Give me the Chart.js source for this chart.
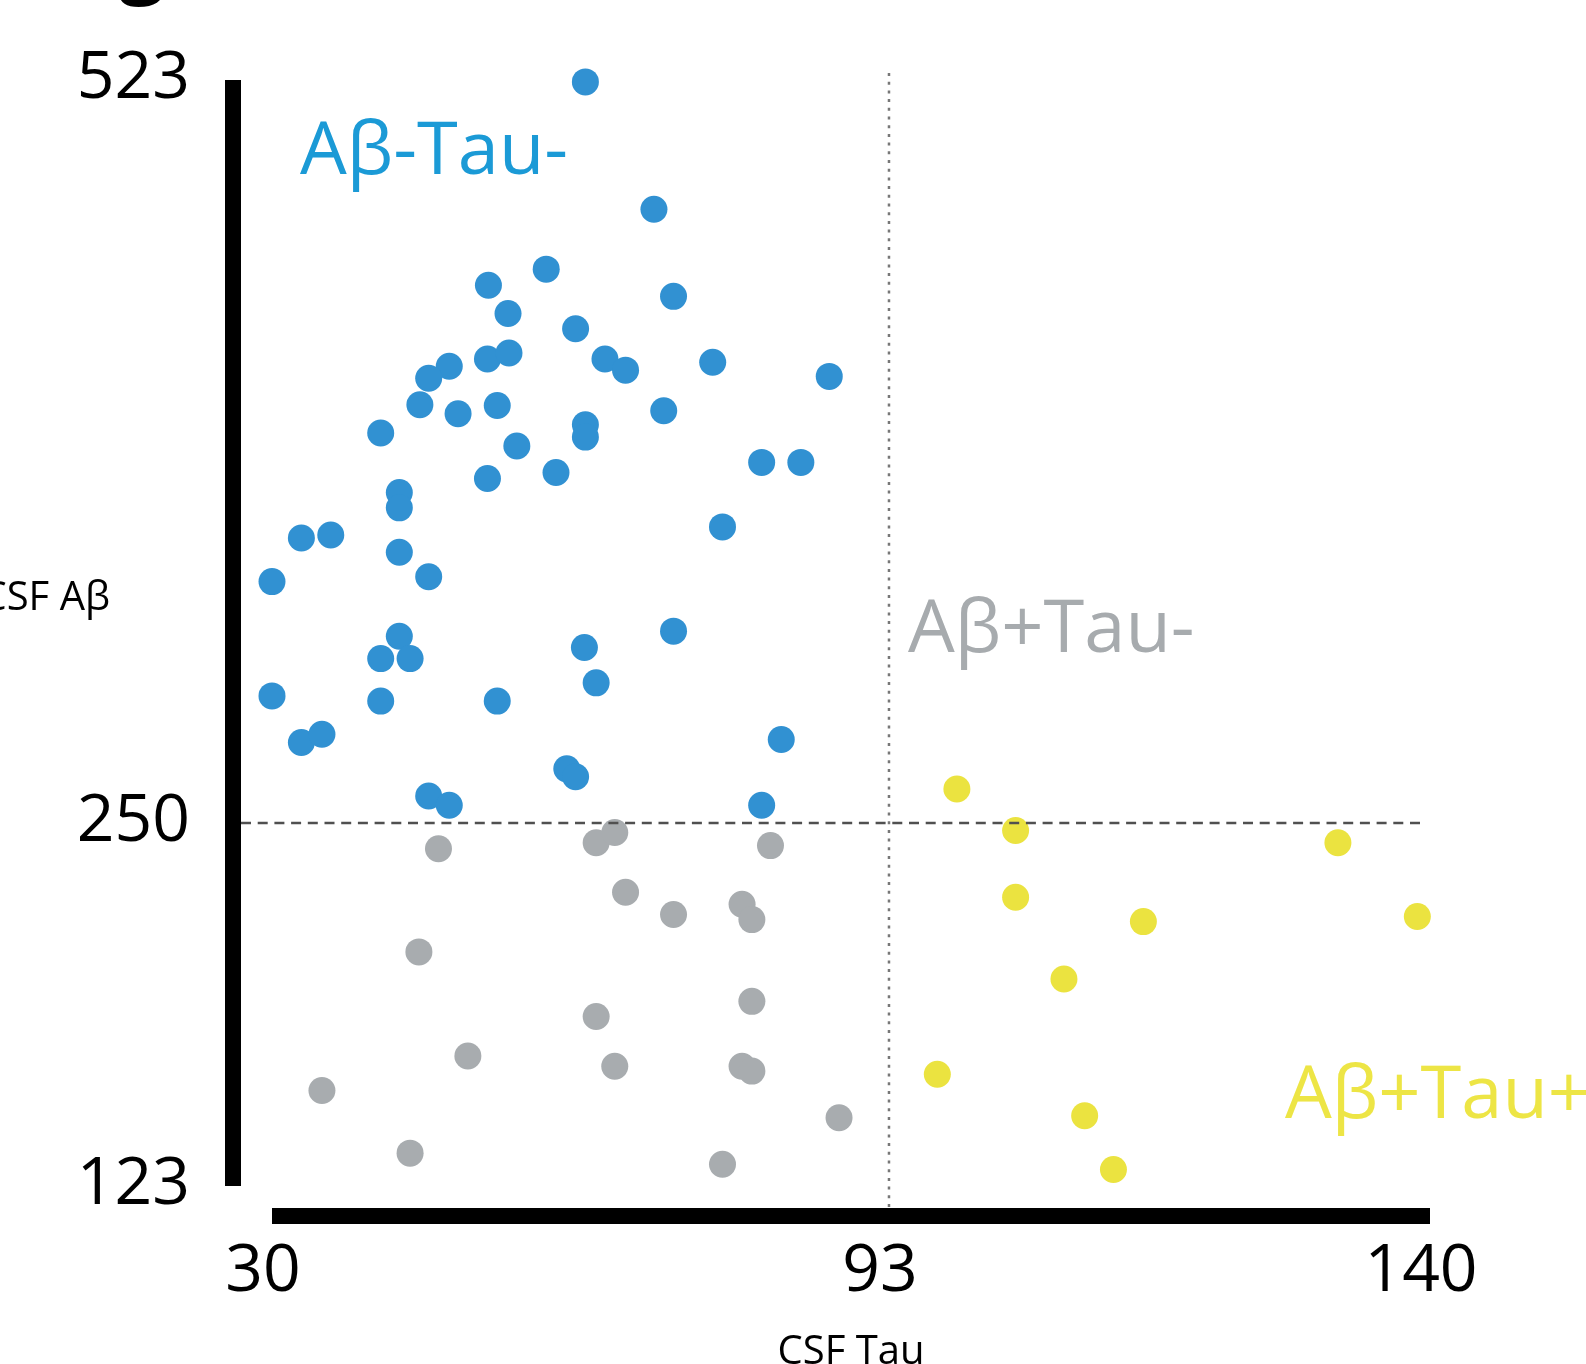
<!DOCTYPE html>
<html>
<head>
<meta charset="utf-8">
<script src="https://cdn.jsdelivr.net/npm/chart.js@4.4.1/dist/chart.umd.min.js"></script>
<style>
  html, body { margin: 0; padding: 0; background: #fff; }
  #wrap { width: 1586px; height: 1364px; position: relative; }
</style>
</head>
<body>
<div id="wrap"><canvas id="chart"></canvas></div>
<script>
// CSF Tau (x) / CSF Abeta (y) per group
const negTauX = [62.0, 69.0, 58.0, 52.1, 71.0, 54.1, 61.0, 52.0, 54.2, 64.0, 66.1, 75.0, 86.9, 48.1, 46.0, 45.1, 49.0, 53.0, 70.0, 62.0, 62.0, 41.1, 55.0, 59.0, 52.0, 80.0, 84.0, 43.0, 43.0, 76.0, 33.0, 36.0, 43.0, 30.0, 46.0, 71.0, 61.9, 43.0, 41.1, 44.1, 63.1, 30.0, 41.1, 53.0, 33.0, 35.1, 82.0, 60.1, 61.0, 46.0, 48.1, 80.0];
const negTauY = [522.3, 475.5, 453.5, 447.6, 443.5, 437.2, 431.6, 420.5, 422.7, 420.5, 416.4, 419.3, 414.1, 417.8, 413.4, 403.7, 400.4, 403.4, 401.5, 396.3, 391.8, 393.3, 388.5, 378.8, 376.6, 382.5, 382.5, 371.4, 365.8, 358.8, 354.7, 355.8, 349.5, 338.7, 340.5, 320.5, 314.5, 318.6, 310.4, 310.4, 301.5, 296.7, 294.8, 294.8, 279.6, 282.6, 280.7, 269.9, 267.0, 259.9, 256.5, 256.5];

const posAbX = [47.0, 63.1, 65.0, 80.9, 66.1, 71.0, 78.0, 79.0, 45.0, 79.0, 63.1, 50.0, 65.0, 78.0, 79.0, 35.1, 87.9, 44.1, 76.0];
const posAbY = [241.0, 243.1, 246.7, 242.1, 225.8, 218.0, 221.6, 216.2, 204.9, 187.6, 182.3, 168.5, 164.9, 164.9, 163.2, 156.4, 146.9, 134.5, 130.6];

const posTauX = [98.9, 104.0, 132.0, 104.0, 115.1, 138.9, 108.2, 97.2, 110.0, 112.5];
const posTauY = [262.5, 247.4, 243.1, 224.0, 215.5, 217.3, 195.4, 162.1, 147.6, 128.8];

const xTicks = [30, 93, 140];
const yTicks = [123, 250, 523];
const tauCutoff = 93;
const abCutoff = 250;

const groupNames = ["Aβ-Tau-", "Aβ+Tau-", "Aβ+Tau+"];
const groupColors = ["#3191d2", "#a8acaf", "#ebe340"];
const labelColors = ["#1b9ad6", "#a7abae", "#ede545"];

// axis breaks are not evenly spaced in the figure: piecewise linear scale
const knotStops = {
  x: { values: [30, 93, 140], stops: [0, 0.5328, 1] },
  y: { values: [123, 250, 523], stops: [0, 0.3282, 1] },
};

class PiecewiseScale extends Chart.LinearScale {
  static id = "piecewise";
  toDecimal(v) {
    const { values, stops } = knotStops[this.id];
    let i = 0;
    while (i < values.length - 2 && v > values[i + 1]) i++;
    return stops[i] + ((v - values[i]) / (values[i + 1] - values[i])) * (stops[i + 1] - stops[i]);
  }
  getPixelForValue(v) {
    return this.getPixelForDecimal(this.toDecimal(v));
  }
  getValueForPixel(p) {
    const { values, stops } = knotStops[this.id];
    const d = this.getDecimalForPixel(p);
    let i = 0;
    while (i < stops.length - 2 && d > stops[i + 1]) i++;
    return values[i] + ((d - stops[i]) / (stops[i + 1] - stops[i])) * (values[i + 1] - values[i]);
  }
}
Chart.register(PiecewiseScale);

const toPoints = (xs, ys) => xs.map((x, i) => ({ x, y: ys[i] }));

const FONT = "'Open Sans', 'Noto Sans', sans-serif";

const decorPlugin = {
  id: "decor",
  afterDatasetsDraw(chart) {
    const { ctx, chartArea: a, scales: { x, y } } = chart;
    ctx.save();
    // threshold lines
    const hy = y.getPixelForValue(abCutoff);
    ctx.strokeStyle = "#505050";
    ctx.lineWidth = 2.5;
    ctx.setLineDash([10, 6.7]);
    ctx.beginPath();
    ctx.moveTo(a.left - 31, hy);
    ctx.lineTo(x.getPixelForValue(140) - 8, hy);
    ctx.stroke();

    const vx = x.getPixelForValue(tauCutoff);
    ctx.strokeStyle = "#777";
    ctx.lineWidth = 2.5;
    ctx.setLineDash([3, 5.7]);
    ctx.beginPath();
    ctx.moveTo(vx, a.top - 7);
    ctx.lineTo(vx, a.bottom + 22);
    ctx.stroke();
    ctx.restore();
  },
  afterDraw(chart) {
    const { ctx, chartArea: a } = chart;
    ctx.save();
    // heavy axis bars, detached at the corner
    ctx.fillStyle = "#000";
    ctx.fillRect(a.left - 47, a.top, 16, a.bottom - a.top);
    ctx.fillRect(a.left, a.bottom + 22, a.right - a.left, 16);

    ctx.textBaseline = "alphabetic";
    ctx.font = `40px ${FONT}`;
    ctx.textAlign = "right";
    ctx.fillText("CSF Aβ", 110, 610);
    ctx.textAlign = "center";
    ctx.fillText("CSF Tau", 851, 1364);

    ctx.font = `bold 80px ${FONT}`;
    ctx.fillText("g", 142, -12);

    ctx.font = `74px ${FONT}`;
    ctx.textAlign = "left";
    const spots = [[300, 174], [908, 652], [1285, 1118]];
    groupNames.forEach((name, i) => {
      ctx.fillStyle = labelColors[i];
      ctx.fillText(name, spots[i][0], spots[i][1]);
    });
    ctx.restore();
  },
};

new Chart(document.getElementById("chart"), {
  type: "scatter",
  data: {
    datasets: [
      { label: groupNames[0], data: toPoints(negTauX, negTauY), backgroundColor: groupColors[0] },
      { label: groupNames[1], data: toPoints(posAbX, posAbY), backgroundColor: groupColors[1] },
      { label: groupNames[2], data: toPoints(posTauX, posTauY), backgroundColor: groupColors[2] },
    ].map((d) => ({ ...d, pointRadius: 13.5, pointHoverRadius: 13.5, borderWidth: 0, clip: false })),
  },
  options: {
    responsive: true,
    maintainAspectRatio: false,
    animation: false,
    events: [],
    layout: { padding: { left: 0, top: 80, right: 156, bottom: 0 } },
    plugins: { legend: { display: false }, tooltip: { enabled: false } },
    scales: {
      x: {
        type: "piecewise",
        min: 30,
        max: 140,
        afterBuildTicks: (s) => { s.ticks = xTicks.map((value) => ({ value })); },
        afterFit: (s) => {
          s.height = 178;
          s.paddingLeft = 0;
          s.paddingRight = 0;
        },
        grid: { display: false, drawTicks: false },
        border: { display: false },
        ticks: {
          color: "#000",
          font: { family: FONT, size: 66 },
          padding: 47,
          labelOffset: -9,
          maxRotation: 0,
          autoSkip: false,
          callback: (v) => String(v),
        },
      },
      y: {
        type: "piecewise",
        min: 123,
        max: 523,
        afterBuildTicks: (s) => { s.ticks = yTicks.map((value) => ({ value })); },
        afterFit: (s) => {
          s.width = 272;
          s.paddingTop = 0;
          s.paddingBottom = 0;
        },
        grid: { display: false, drawTicks: false },
        border: { display: false },
        ticks: {
          color: "#000",
          font: { family: FONT, size: 66 },
          padding: 82,
          labelOffset: -1,
          autoSkip: false,
          callback: (v) => String(v),
        },
      },
    },
  },
  plugins: [decorPlugin],
});
</script>
</body>
</html>
